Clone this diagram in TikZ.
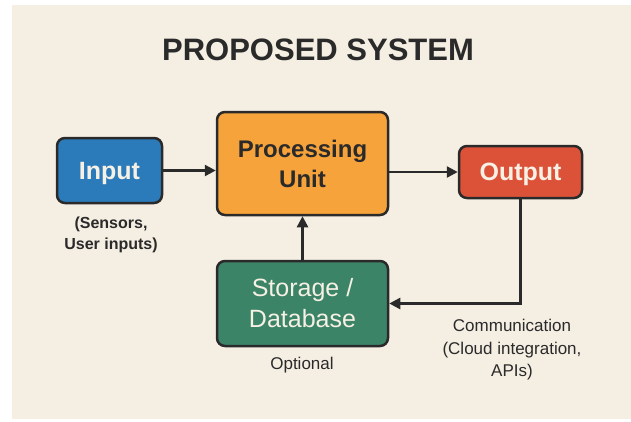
\documentclass[tikz,border=0pt]{standalone}
\usepackage{fontspec}
\setmainfont{Liberation Sans}
\usetikzlibrary{arrows.meta}
\definecolor{bgbeige}{HTML}{F5EEE3}
\definecolor{inkdark}{HTML}{2A2A2A}
\definecolor{boxblue}{HTML}{2B7BBA}
\definecolor{boxorange}{HTML}{F6A33B}
\definecolor{boxred}{HTML}{DC5239}
\definecolor{boxgreen}{HTML}{3B8468}
\definecolor{boxtext}{HTML}{F7F0E4}
\tikzset{
  blockbox/.style={draw=inkdark, line width=2.5pt, rounded corners=8pt, align=center, inner sep=0pt},
  flowarrow/.style={draw=inkdark, line width=2.5pt, -{Triangle[length=11pt,width=11pt]}},
  notetext/.style={text=inkdark, align=center}
}
\begin{document}
\begin{tikzpicture}[x=1pt,y=-1pt]
\useasboundingbox (0,0) rectangle (631,421);
\fill[white] (0,0) rectangle (631,421);
\fill[bgbeige] (12,5) rectangle (631,419);

\node[text=inkdark, font=\fontsize{31}{36}\selectfont\bfseries] (title) at (318,50) {PROPOSED SYSTEM};

\node[blockbox, fill=boxblue, text=boxtext, minimum width=105pt, minimum height=65pt,
  text depth=0pt, font=\fontsize{25}{30}\selectfont\bfseries] (input) at (109.5,170.5) {Input};
\node[blockbox, fill=boxorange, text=inkdark, minimum width=171pt, minimum height=103pt,
  font=\fontsize{24}{30}\selectfont\bfseries] (proc) at (302.5,163.5) {Processing\\Unit};
\node[blockbox, fill=boxred, text=boxtext, minimum width=123pt, minimum height=52pt,
  text depth=0pt, font=\fontsize{25}{30}\selectfont\bfseries] (out) at (520.5,172) {Output};
\node[blockbox, fill=boxgreen, text=boxtext, minimum width=171pt, minimum height=85pt,
  font=\fontsize{25}{31}\selectfont] (store) at (302.5,303.5) {Storage /\\Database};

\node[notetext, font=\fontsize{16}{21}\selectfont\bfseries] (sensors) at (111,235) {(Sensors,\\User inputs)};
\node[notetext, font=\fontsize{17}{22}\selectfont] (optional) at (302,365) {Optional};
\node[notetext, font=\fontsize{17}{22.5}\selectfont] (comm) at (512,350) {Communication\\(Cloud integration,\\APIs)};

\draw[flowarrow] (input.east) -- (input.east -| proc.west);
\draw[flowarrow] (out.west -| proc.east) -- (out.west);
\draw[flowarrow] (out.south) |- (store.east);
\draw[flowarrow] (store.north) -- (proc.south);
\end{tikzpicture}
\end{document}
